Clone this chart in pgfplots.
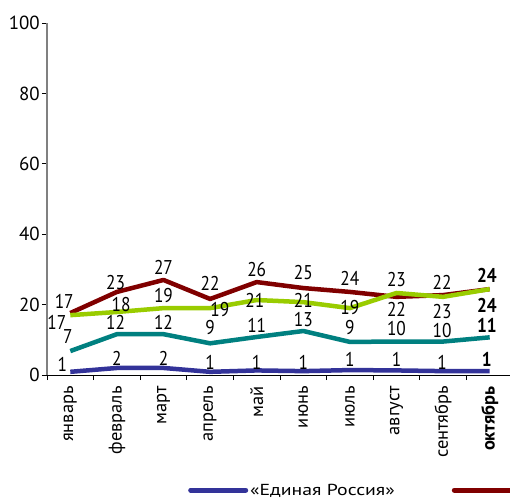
\documentclass[border=0pt]{standalone}
\usepackage{fontspec}
\setmainfont{PT Sans}
\newfontfamily\condfont{PT Sans}[FakeStretch=0.87]
\newfontfamily\legfont{PT Sans}[FakeStretch=1.24]
\usepackage{pgfplots}
\pgfplotsset{compat=1.18}
\definecolor{cRed}{HTML}{800000}
\definecolor{cGreen}{HTML}{99CC00}
\definecolor{cTeal}{HTML}{008080}
\definecolor{cBlue}{HTML}{333399}
\begin{document}
\begin{tikzpicture}[x=1bp,y=1bp]
\begin{axis}[
  at={(0,0)}, anchor=south west,
  scale only axis, width=466bp, height=352bp,
  xmin=-0.5, xmax=9.5, ymin=0, ymax=100,
  axis x line*=bottom, axis y line*=left,
  x axis line style={black, line width=1bp},
  y axis line style={gray, line width=1.2bp},
  xtick={-0.5,0.5,...,9.5},
  x tick label as interval,
  xticklabels={январь,февраль,март,апрель,май,июнь,июль,август,сентябрь,\textbf{октябрь}},
  x tick label style={rotate=90, anchor=east, font=\fontsize{18.5}{18.5}\selectfont, inner sep=2bp, xshift=-4bp},
  ytick={0,20,40,60,80,100},
  y tick label style={font=\fontsize{19}{19}\selectfont, inner sep=2bp},
  tick align=outside, major tick length=5bp,
  tick style={black, line width=0.8bp},
  /pgf/number format/assume math mode=true,
  clip=false,
  legend style={at={(rel axis cs:0.3026,-0.327)}, anchor=west, draw=none, fill=none,
    inner sep=0pt, font=\legfont\fontsize{16}{16}\selectfont,
    /tikz/every even column/.append style={column sep=55bp}},
  legend columns=2,
  legend image code/.code={\draw[#1, line width=5bp, line cap=round] (0bp,0bp) -- (55bp,0bp);},
  every axis plot/.append style={line width=4.5bp, line join=round, no markers},
]
\addplot[cBlue] coordinates {(0,0.9) (1,2) (2,2) (3,0.9) (4,1.3) (5,1.1) (6,1.4) (7,1.3) (8,1.1) (9,1.1)};
\addlegendentry{«Единая Россия»}
\addplot[cRed] coordinates {(0,17.6) (1,23.6) (2,27) (3,21.6) (4,26.4) (5,24.7) (6,23.6) (7,22.2) (8,22.7) (9,24.4)};
\addlegendentry{}
\addplot[cGreen, forget plot] coordinates {(0,17) (1,17.9) (2,19) (3,19) (4,21.3) (5,20.7) (6,19) (7,23.3) (8,22.2) (9,24.4)};
\addplot[cTeal, forget plot] coordinates {(0,6.8) (1,11.6) (2,11.6) (3,9) (4,10.8) (5,12.5) (6,9.4) (7,9.5) (8,9.5) (9,10.7)};
% labels
\begin{scope}[every node/.style={font=\condfont\fontsize{20}{20}\selectfont, inner sep=0pt}]
% red
\node at (axis cs:-0.13,21.0) {17};
\node at (axis cs:0.97,26.4) {23};
\node at (axis cs:2,30.7) {27};
\node at (axis cs:3,26.1) {22};
\node at (axis cs:4,30.1) {26};
\node at (axis cs:5,29.0) {25};
\node at (axis cs:6,27.3) {24};
\node at (axis cs:7,27.0) {23};
\node at (axis cs:7.98,26.4) {22};
\node at (axis cs:8.94,28.4) {\textbf{24}};
% green
\node at (axis cs:-0.29,14.8) {17};
\node at (axis cs:1.09,19.9) {18};
\node at (axis cs:2,22.7) {19};
\node at (axis cs:3.21,18.5) {19};
\node at (axis cs:3.96,21.3) {21};
\node at (axis cs:5,21.2) {21};
\node at (axis cs:6,19.3) {19};
\node at (axis cs:7,18.5) {22};
\node at (axis cs:7.98,17.9) {23};
\node at (axis cs:8.94,19.9) {\textbf{24}};
% teal
\node at (axis cs:-0.05,10.8) {7};
\node at (axis cs:0.97,14.8) {12};
\node at (axis cs:2,14.8) {12};
\node at (axis cs:3,13.6) {9};
\node at (axis cs:4,14.2) {11};
\node at (axis cs:5,15.8) {13};
\node at (axis cs:6,13.4) {9};
\node at (axis cs:7,13.1) {10};
\node at (axis cs:7.98,12.5) {10};
\node at (axis cs:8.94,14.2) {\textbf{11}};
% blue
\node at (axis cs:-0.17,2.9) {1};
\node at (axis cs:1,4.8) {2};
\node at (axis cs:2,4.8) {2};
\node at (axis cs:3,3.7) {1};
\node at (axis cs:4,3.7) {1};
\node at (axis cs:5,3.7) {1};
\node at (axis cs:6,4.3) {1};
\node at (axis cs:7,4.3) {1};
\node at (axis cs:7.98,3.7) {1};
\node at (axis cs:8.94,4.3) {\textbf{1}};
\end{scope}
\end{axis}
\pgfresetboundingbox
\useasboundingbox (-47bp,-127bp) rectangle (463bp,375bp);
\end{tikzpicture}
\end{document}
